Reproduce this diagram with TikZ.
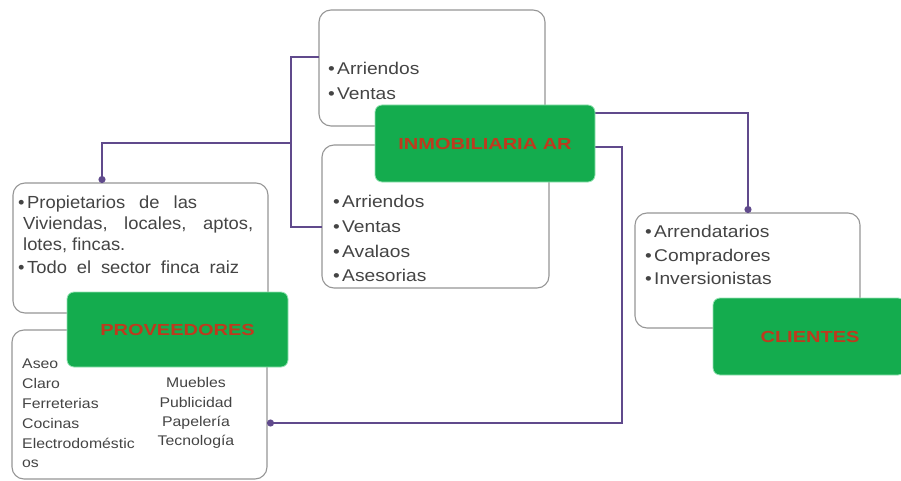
\documentclass[tikz,border=0pt]{standalone}
\usepackage{fontspec}
\setmainfont{Liberation Sans}
\newfontfamily\bodyfont[FakeStretch=1.13]{Liberation Sans}
\newfontfamily\plainfont[FakeStretch=1.05]{Liberation Sans}
\newfontfamily\headfont[FakeStretch=1.25]{Liberation Sans}
\usetikzlibrary{arrows.meta}
\definecolor{boxline}{RGB}{150,150,150}
\definecolor{txt}{RGB}{68,68,68}
\definecolor{headgreen}{RGB}{20,172,78}
\definecolor{headedge}{RGB}{150,228,180}
\definecolor{headred}{RGB}{190,58,30}
\definecolor{link}{RGB}{96,74,140}
\newcommand\itembul{\makebox[9pt][l]{\textbullet}}
\begin{document}
\begin{tikzpicture}[x=1pt,y=-1pt,
  listbox/.style={draw=boxline,line width=1.1pt,fill=white,rounded corners=12pt,
    inner sep=0pt,outer sep=0pt,anchor=north west},
  headbox/.style={fill=headgreen,draw=headedge,line width=0.8pt,rounded corners=7pt,
    inner sep=0pt,outer sep=0pt,anchor=north west},
  headtext/.style={text=headred,inner sep=0pt,anchor=center,
    font=\headfont\bfseries\fontsize{16}{18}\selectfont},
  bigline/.style={anchor=base west,inner sep=0pt,text=txt,
    font=\bodyfont\fontsize{17}{20}\selectfont},
  provline/.style={anchor=base west,inner sep=0pt,text=txt,
    font=\plainfont\fontsize{17.5}{20}\selectfont},
  smallline/.style={anchor=base west,inner sep=0pt,text=txt,
    font=\bodyfont\fontsize{14}{16}\selectfont},
  smallmid/.style={smallline,anchor=base},
  link/.style={draw=link,line width=1.8pt},
  linkdot/.style={link,-{Circle[length=7pt]}}]

\useasboundingbox (0,0) rectangle (901,481);
\fill[white] (0,0) rectangle (901,481);

% white list boxes
\node[listbox,minimum width=226pt,minimum height=116pt] (topbox) at (319,10) {};
\node[listbox,minimum width=227pt,minimum height=143pt] (midbox) at (322,145) {};
\node[listbox,minimum width=255pt,minimum height=130pt] (provtop) at (13,183) {};
\node[listbox,minimum width=255pt,minimum height=149pt] (provbot) at (12,330) {};
\node[listbox,minimum width=225pt,minimum height=115pt] (clibox) at (635,213) {};

% connectors
\coordinate (hub) at (291,143);
\draw[link] (topbox.west |- 0,57) -| (hub) |- (midbox.west |- 0,227);
\draw[linkdot] (hub) -| (provtop.north -| 102,0);
\draw[linkdot] (595,113) -| (clibox.north -| 748,0);
\draw[linkdot] (595,147) -| (622,423) -- (provbot.east |- 0,423);

% green headers
\node[headbox,minimum width=220pt,minimum height=77pt] (inmob) at (375,105) {};
\node[headtext] (inmobtext) at (inmob.center) {INMOBILIARIA AR};
\node[headbox,minimum width=221pt,minimum height=75pt] (prov) at (67,292) {};
\node[headtext] (provtext) at (prov.center) {PROVEEDORES};
\node[headbox,minimum width=192pt,minimum height=77pt] (cli) at (713,298) {};
\node[headtext] (clitext) at ([xshift=1pt]cli.center) {CLIENTES};

% services of the agency
\node[bigline] (ta1) at (328,74.5) {\itembul Arriendos};
\node[bigline] (ta2) at (328,99.5) {\itembul Ventas};
\node[bigline] (mb1) at (333,207.5) {\itembul Arriendos};
\node[bigline] (mb2) at (333,232.5) {\itembul Ventas};
\node[bigline] (mb3) at (333,257.5) {\itembul Avalaos};
\node[bigline] (mb4) at (333,281.5) {\itembul Asesorias};

% clients
\node[bigline] (cl1) at (645,237.5) {\itembul Arrendatarios};
\node[bigline] (cl2) at (645,261.5) {\itembul Compradores};
\node[bigline] (cl3) at (645,284.5) {\itembul Inversionistas};

% suppliers
\node[provline] (pv1) at (18,208) {\itembul\makebox[170pt][s]{Propietarios de las}};
\node[provline] (pv2) at (23,229) {\makebox[230pt][s]{Viviendas, locales, aptos,}};
\node[provline] (pv3) at (23,250) {lotes, fincas.};
\node[provline] (pv4) at (18,273) {\itembul\makebox[212pt][s]{Todo el sector finca raiz}};

\node[smallline] (sp1) at (22,368.5) {Aseo};
\node[smallline] (sp2) at (22,388) {Claro};
\node[smallline] (sp3) at (22,408) {Ferreterias};
\node[smallline] (sp4) at (22,428) {Cocinas};
\node[smallline] (sp5) at (22,448) {Electrodoméstic};
\node[smallline] (sp6) at (22,467.5) {os};
\node[smallmid] (sq1) at (196,387.5) {Muebles};
\node[smallmid] (sq2) at (196,407.5) {Publicidad};
\node[smallmid] (sq3) at (196,426.5) {Papelería};
\node[smallmid] (sq4) at (196,445) {Tecnología};
\end{tikzpicture}
\end{document}
